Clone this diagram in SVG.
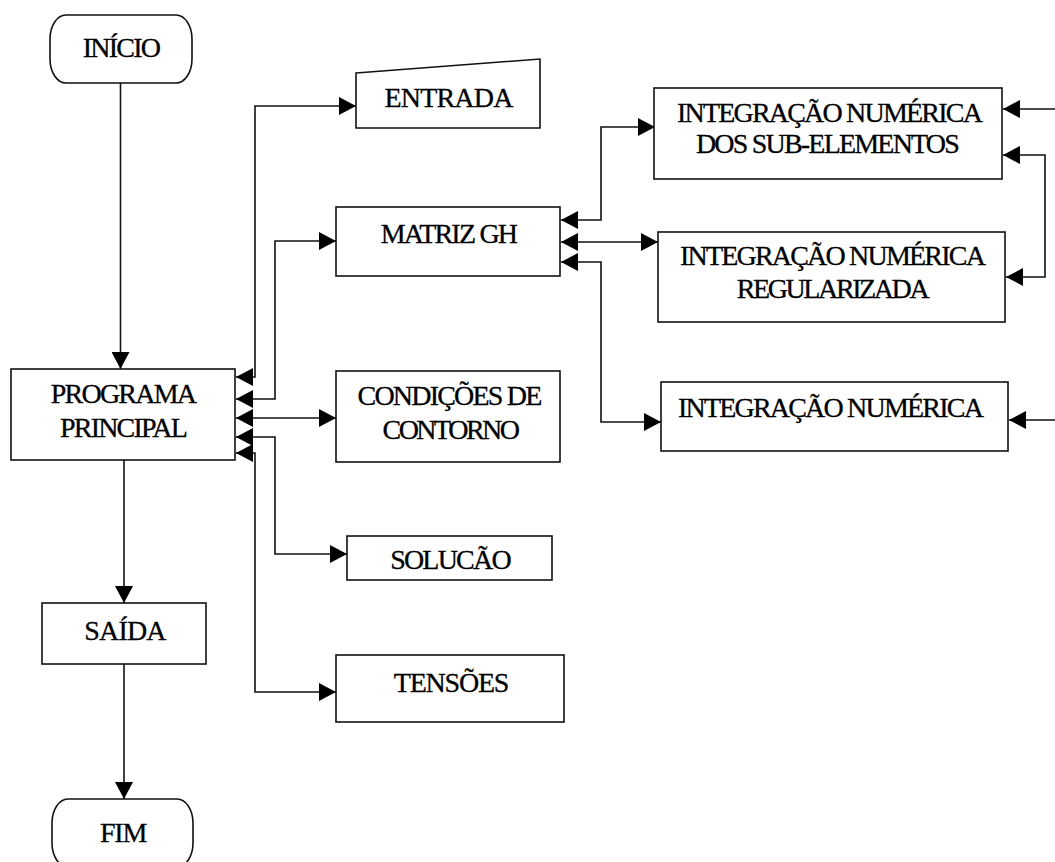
<svg xmlns="http://www.w3.org/2000/svg" width="1055" height="862" viewBox="0 0 1055 862">
<style>
.box{fill:#fff;stroke:#111;stroke-width:1.6}
.t{font-family:'Liberation Serif','Times New Roman',Times,serif;font-size:28px;fill:#000;stroke:#000;stroke-width:0.3;text-anchor:middle;letter-spacing:-1.8px}
.c{fill:none;stroke:#111;stroke-width:1.6}
.b{marker-start:url(#ah);marker-end:url(#ah)}
.e{marker-end:url(#ah)}
</style>
<defs>
<marker id="ah" markerUnits="userSpaceOnUse" markerWidth="18" markerHeight="18" refX="17" refY="9" orient="auto-start-reverse">
<path d="M0,0 L17,9 L0,18 Z" fill="#000"/>
</marker>
</defs>
<rect width="1055" height="862" fill="#fff"/>
<g id="connectors">
<path class="c e" d="M120.5,83 V369"/>
<path class="c e" d="M124,460 V603"/>
<path class="c e" d="M124,664 V799"/>
<path class="c b" d="M236,377 H255 V106 H356"/>
<path class="c b" d="M236,399 H275 V241 H336"/>
<path class="c b" d="M236,418 H336"/>
<path class="c b" d="M236,437 H275 V554 H347"/>
<path class="c b" d="M236,453 H255 V692 H336"/>
<path class="c b" d="M561,220 H601 V127 H655"/>
<path class="c b" d="M561,242 H658"/>
<path class="c b" d="M561,262 H601 V422 H661"/>
<path class="c e" d="M1055,109 H1003"/>
<path class="c b" d="M1003,155 H1045 V277 H1006"/>
<path class="c e" d="M1055,420 H1009"/>
</g>
<g id="inicio">
<rect class="box" x="50" y="15" width="142" height="68" rx="16" ry="24"/>
<text class="t" x="121" y="57">INÍCIO</text>
</g>
<g id="programa">
<rect class="box" x="11" y="369" width="224" height="91"/>
<text class="t" x="123" y="403">PROGRAMA</text>
<text class="t" x="123" y="437">PRINCIPAL</text>
</g>
<g id="entrada">
<polygon class="box" points="356,73 540,59 540,128 356,128"/>
<text class="t" x="448.5" y="107" style="letter-spacing:-0.8px">ENTRADA</text>
</g>
<g id="matriz">
<rect class="box" x="336" y="207" width="224" height="69"/>
<text class="t" x="448.5" y="243">MATRIZ GH</text>
</g>
<g id="condicoes">
<rect class="box" x="336" y="371" width="224" height="91"/>
<text class="t" x="449" y="405">CONDIÇÕES DE</text>
<text class="t" x="450" y="439" style="letter-spacing:-2.5px">CONTORNO</text>
</g>
<g id="solucao">
<rect class="box" x="347" y="536" width="205" height="44"/>
<text class="t" x="450" y="569">SOLUCÃO</text>
</g>
<g id="tensoes">
<rect class="box" x="336" y="655" width="228" height="67"/>
<text class="t" x="451" y="692" style="letter-spacing:-1.2px">TENSÕES</text>
</g>
<g id="saida">
<rect class="box" x="42" y="603" width="164" height="61"/>
<text class="t" x="125" y="640" style="letter-spacing:-0.8px">SAÍDA</text>
</g>
<g id="fim">
<rect class="box" x="52" y="799" width="141" height="68" rx="16" ry="24"/>
<text class="t" x="123" y="842" style="letter-spacing:-1.2px">FIM</text>
</g>
<g id="int-sub">
<rect class="box" x="654" y="88" width="348" height="91"/>
<text class="t" x="829" y="122">INTEGRAÇÃO NUMÉRICA</text>
<text class="t" x="827" y="153">DOS SUB-ELEMENTOS</text>
</g>
<g id="int-reg">
<rect class="box" x="658" y="232" width="347" height="90"/>
<text class="t" x="832" y="265">INTEGRAÇÃO NUMÉRICA</text>
<text class="t" x="832" y="298" style="letter-spacing:-2.4px">REGULARIZADA</text>
</g>
<g id="int-num">
<rect class="box" x="661" y="382" width="347" height="69"/>
<text class="t" x="830" y="417">INTEGRAÇÃO NUMÉRICA</text>
</g>
</svg>
